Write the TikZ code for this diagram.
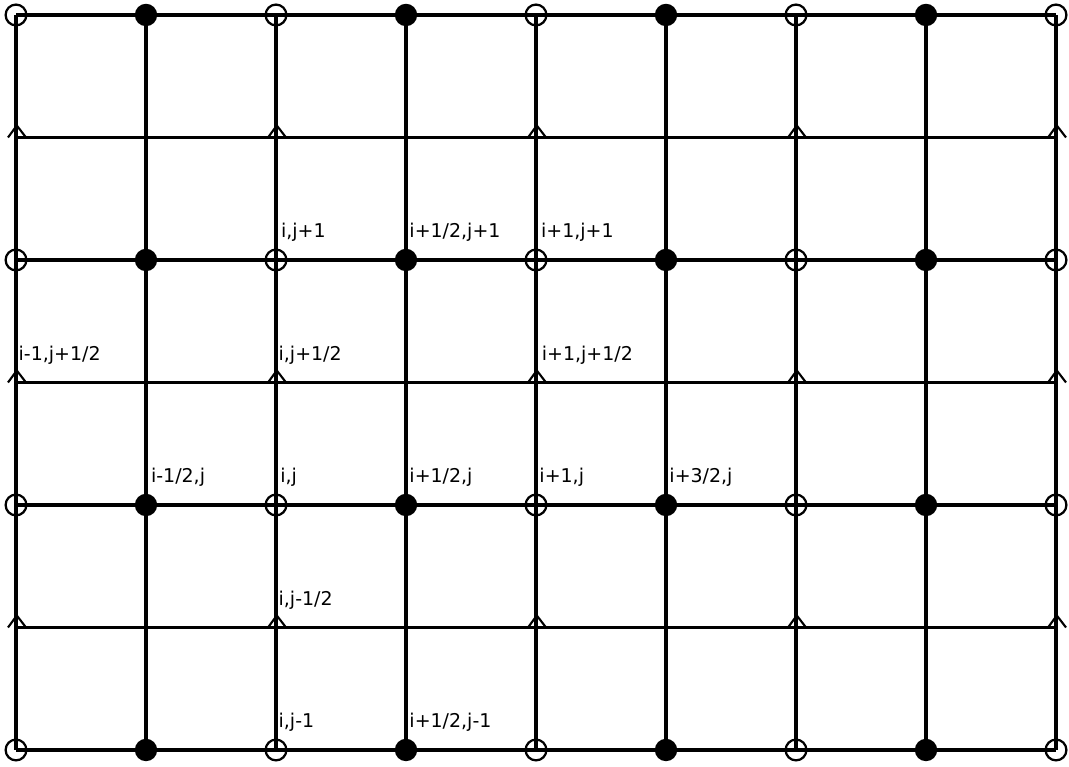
\documentclass[tikz,border=0pt]{standalone}
\usepackage{fontspec}
\setsansfont{DejaVu Sans}
\usetikzlibrary{positioning}

\tikzset{
  gridline/.style={line width=2.4pt},
  opendot/.style={circle,draw,line width=1.6pt,minimum size=0.52cm,inner sep=0pt},
  fulldot/.style={circle,fill,minimum size=0.56cm,inner sep=0pt},
  halfmark/.style={line width=1.5pt,line join=miter},
  idxlabel/.style={anchor=base west,inner sep=0pt,font=\sffamily\fontsize{13.5}{14}\selectfont}
}

\begin{document}
\begin{tikzpicture}[x=3.25cm,y=3.0625cm]
  \useasboundingbox (-0.1231,-0.1388) rectangle (8.1,6.1224);
  % ---- staggered grid ----
  \foreach \i in {0,...,8} \draw[gridline] (\i,0) -- (\i,6);
  \foreach \j in {0,...,6} \draw[gridline] (0,\j) -- (8,\j);
  % ---- integer rows: open and filled points ----
  \foreach \j in {0,2,4,6}{
    \foreach \i in {0,2,4,6,8} \node[opendot] (p-\i-\j) at (\i,\j) {};
    \foreach \i in {1,3,5,7} \node[fulldot] (p-\i-\j) at (\i,\j) {};
  }
  % ---- half rows: triangles ----
  \foreach \j in {1,3,5}{
    \foreach \i in {0,2,4,6,8}{
      \coordinate (t-\i-\j) at (\i,\j);
      \draw[halfmark] ([xshift=-0.2cm]t-\i-\j) -- ([xshift=0.02cm,yshift=0.3cm]t-\i-\j) -- ([xshift=0.25cm]t-\i-\j);
    }
  }
  % ---- index labels ----
  \foreach \c/\r/\dx/\t in {2/4/0.12/{i,j+1}, 3/4/0.08/{i+1/2,j+1}, 4/4/0.12/{i+1,j+1},
      0/3/0.06/{i-1,j+1/2}, 2/3/0.06/{i,j+1/2}, 4/3/0.14/{i+1,j+1/2},
      1/2/0.12/{i-1/2,j}, 2/2/0.1/{i,j}, 3/2/0.08/{i+1/2,j}, 4/2/0.08/{i+1,j}, 5/2/0.08/{i+3/2,j},
      2/1/0.06/{i,j-1/2}, 2/0/0.06/{i,j-1}, 3/0/0.08/{i+1/2,j-1}}
    \node[idxlabel] (lbl-\c-\r) at ([xshift=\dx cm,yshift=0.55cm]\c,\r) {\t};
\end{tikzpicture}
\end{document}
